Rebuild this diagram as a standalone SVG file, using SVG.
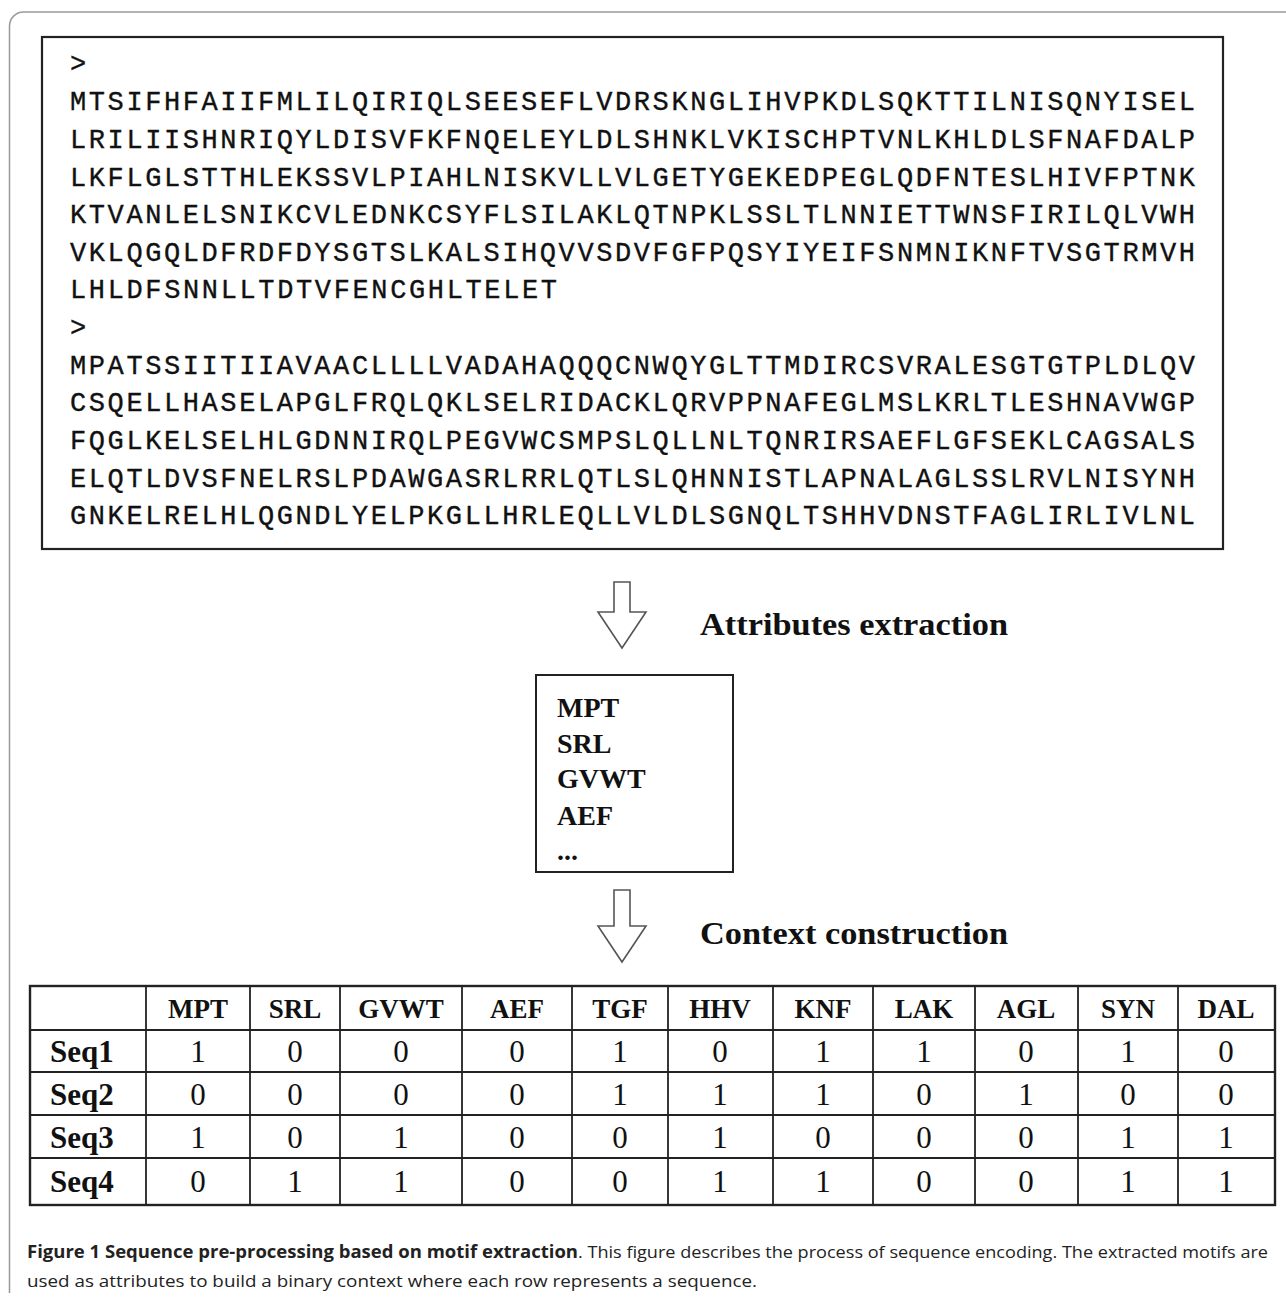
<svg xmlns="http://www.w3.org/2000/svg" width="1286" height="1299" viewBox="0 0 1286 1299">
<style>
.seq{font-family:"Liberation Mono","Courier New",monospace;font-size:27px;fill:#111;stroke:#111;stroke-width:0.35}
.lbl{font-family:"Liberation Serif","Times New Roman",serif;font-weight:bold;font-size:31px;fill:#111}
.attr{font-family:"Liberation Serif","Times New Roman",serif;font-weight:bold;font-size:28px;fill:#111}
.th{font-family:"Liberation Serif","Times New Roman",serif;font-weight:bold;font-size:27px;fill:#111;text-anchor:middle}
.rh{font-family:"Liberation Serif","Times New Roman",serif;font-weight:bold;font-size:31px;fill:#111}
.td{font-family:"Liberation Serif","Times New Roman",serif;font-size:31px;fill:#111;text-anchor:middle}
.cap{font-family:"Open Sans","Noto Sans","Liberation Sans",sans-serif;font-size:17px;fill:#222}
.capb{font-family:"Open Sans","Noto Sans","Liberation Sans",sans-serif;font-size:17px;font-weight:bold;fill:#222}
.arrow{fill:#fff;stroke:#555;stroke-width:1.6;stroke-linejoin:miter}
.grid{stroke:#222;stroke-width:1.8;fill:none}
</style>
<rect width="1286" height="1299" fill="#fff"/>
<g id="frame">
<path d="M9.5,1293 V26 A14,14 0 0 1 23.5,12 H1286" fill="none" stroke="#999" stroke-width="1.5"/>
</g>
<g id="sequences">
<rect x="42" y="37" width="1181" height="512" fill="#fff" stroke="#222" stroke-width="2.2"/>
<text class="seq" x="70" y="72">&gt;</text>
<text class="seq" x="70" y="110" textLength="1125" lengthAdjust="spacing">MTSIFHFAIIFMLILQIRIQLSEESEFLVDRSKNGLIHVPKDLSQKTTILNISQNYISEL</text>
<text class="seq" x="70" y="148" textLength="1125" lengthAdjust="spacing">LRILIISHNRIQYLDISVFKFNQELEYLDLSHNKLVKISCHPTVNLKHLDLSFNAFDALP</text>
<text class="seq" x="70" y="186" textLength="1125" lengthAdjust="spacing">LKFLGLSTTHLEKSSVLPIAHLNISKVLLVLGETYGEKEDPEGLQDFNTESLHIVFPTNK</text>
<text class="seq" x="70" y="223" textLength="1125" lengthAdjust="spacing">KTVANLELSNIKCVLEDNKCSYFLSILAKLQTNPKLSSLTLNNIETTWNSFIRILQLVWH</text>
<text class="seq" x="70" y="261" textLength="1125" lengthAdjust="spacing">VKLQGQLDFRDFDYSGTSLKALSIHQVVSDVFGFPQSYIYEIFSNMNIKNFTVSGTRMVH</text>
<text class="seq" x="70" y="298" textLength="487" lengthAdjust="spacing">LHLDFSNNLLTDTVFENCGHLTELET</text>
<text class="seq" x="70" y="336">&gt;</text>
<text class="seq" x="70" y="374" textLength="1125" lengthAdjust="spacing">MPATSSIITIIAVAACLLLLVADAHAQQQCNWQYGLTTMDIRCSVRALESGTGTPLDLQV</text>
<text class="seq" x="70" y="411" textLength="1125" lengthAdjust="spacing">CSQELLHASELAPGLFRQLQKLSELRIDACKLQRVPPNAFEGLMSLKRLTLESHNAVWGP</text>
<text class="seq" x="70" y="449" textLength="1125" lengthAdjust="spacing">FQGLKELSELHLGDNNIRQLPEGVWCSMPSLQLLNLTQNRIRSAEFLGFSEKLCAGSALS</text>
<text class="seq" x="70" y="487" textLength="1125" lengthAdjust="spacing">ELQTLDVSFNELRSLPDAWGASRLRRLQTLSLQHNNISTLAPNALAGLSSLRVLNISYNH</text>
<text class="seq" x="70" y="524" textLength="1125" lengthAdjust="spacing">GNKELRELHLQGNDLYELPKGLLHRLEQLLVLDLSGNQLTSHHVDNSTFAGLIRLIVLNL</text>
</g>
<g id="connectors">
<path class="arrow" d="M614,582 H630 V612 H646 L622,648 L598,612 H614 Z"/>
<path class="arrow" d="M614,890 H630 V926 H646 L622,962 L598,926 H614 Z"/>
</g>
<g id="label-attributes">
<text class="lbl" x="700" y="635" textLength="308" lengthAdjust="spacingAndGlyphs">Attributes extraction</text>
</g>
<g id="attributes">
<rect x="536" y="675" width="197" height="197" fill="#fff" stroke="#222" stroke-width="2"/>
<text class="attr" x="557" y="717">MPT</text>
<text class="attr" x="557" y="753">SRL</text>
<text class="attr" x="557" y="788">GVWT</text>
<text class="attr" x="557" y="825">AEF</text>
<text class="attr" x="557" y="860">...</text>
</g>
<g id="label-context">
<text class="lbl" x="700" y="944" textLength="308" lengthAdjust="spacingAndGlyphs">Context construction</text>
</g>
<g id="context-table">
<rect x="30" y="986" width="1245" height="219" fill="#fff" stroke="#222" stroke-width="2.4"/>
<path class="grid" d="M30,1030 H1275 M30,1072 H1275 M30,1115 H1275 M30,1158 H1275"/>
<path class="grid" d="M146,986 V1205 M250,986 V1205 M340,986 V1205 M462,986 V1205 M572,986 V1205 M668,986 V1205 M773,986 V1205 M873,986 V1205 M975,986 V1205 M1078,986 V1205 M1178,986 V1205"/>
<text class="th" y="1018"><tspan x="198">MPT</tspan><tspan x="295">SRL</tspan><tspan x="401">GVWT</tspan><tspan x="517">AEF</tspan><tspan x="620">TGF</tspan><tspan x="720">HHV</tspan><tspan x="823">KNF</tspan><tspan x="924">LAK</tspan><tspan x="1026">AGL</tspan><tspan x="1128">SYN</tspan><tspan x="1226">DAL</tspan></text>
<text class="rh" x="50" y="1062">Seq1</text>
<text class="rh" x="50" y="1105">Seq2</text>
<text class="rh" x="50" y="1148">Seq3</text>
<text class="rh" x="50" y="1192">Seq4</text>
<text class="td" y="1062"><tspan x="198">1</tspan><tspan x="295">0</tspan><tspan x="401">0</tspan><tspan x="517">0</tspan><tspan x="620">1</tspan><tspan x="720">0</tspan><tspan x="823">1</tspan><tspan x="924">1</tspan><tspan x="1026">0</tspan><tspan x="1128">1</tspan><tspan x="1226">0</tspan></text>
<text class="td" y="1105"><tspan x="198">0</tspan><tspan x="295">0</tspan><tspan x="401">0</tspan><tspan x="517">0</tspan><tspan x="620">1</tspan><tspan x="720">1</tspan><tspan x="823">1</tspan><tspan x="924">0</tspan><tspan x="1026">1</tspan><tspan x="1128">0</tspan><tspan x="1226">0</tspan></text>
<text class="td" y="1148"><tspan x="198">1</tspan><tspan x="295">0</tspan><tspan x="401">1</tspan><tspan x="517">0</tspan><tspan x="620">0</tspan><tspan x="720">1</tspan><tspan x="823">0</tspan><tspan x="924">0</tspan><tspan x="1026">0</tspan><tspan x="1128">1</tspan><tspan x="1226">1</tspan></text>
<text class="td" y="1192"><tspan x="198">0</tspan><tspan x="295">1</tspan><tspan x="401">1</tspan><tspan x="517">0</tspan><tspan x="620">0</tspan><tspan x="720">1</tspan><tspan x="823">1</tspan><tspan x="924">0</tspan><tspan x="1026">0</tspan><tspan x="1128">1</tspan><tspan x="1226">1</tspan></text>
</g>
<g id="caption">
<text class="capb" x="27" y="1258" textLength="551" lengthAdjust="spacingAndGlyphs">Figure 1 Sequence pre-processing based on motif extraction</text>
<text class="cap" x="578" y="1258" textLength="690" lengthAdjust="spacingAndGlyphs">. This figure describes the process of sequence encoding. The extracted motifs are</text>
<text class="cap" x="27" y="1287" textLength="730" lengthAdjust="spacingAndGlyphs">used as attributes to build a binary context where each row represents a sequence.</text>
</g>
</svg>
